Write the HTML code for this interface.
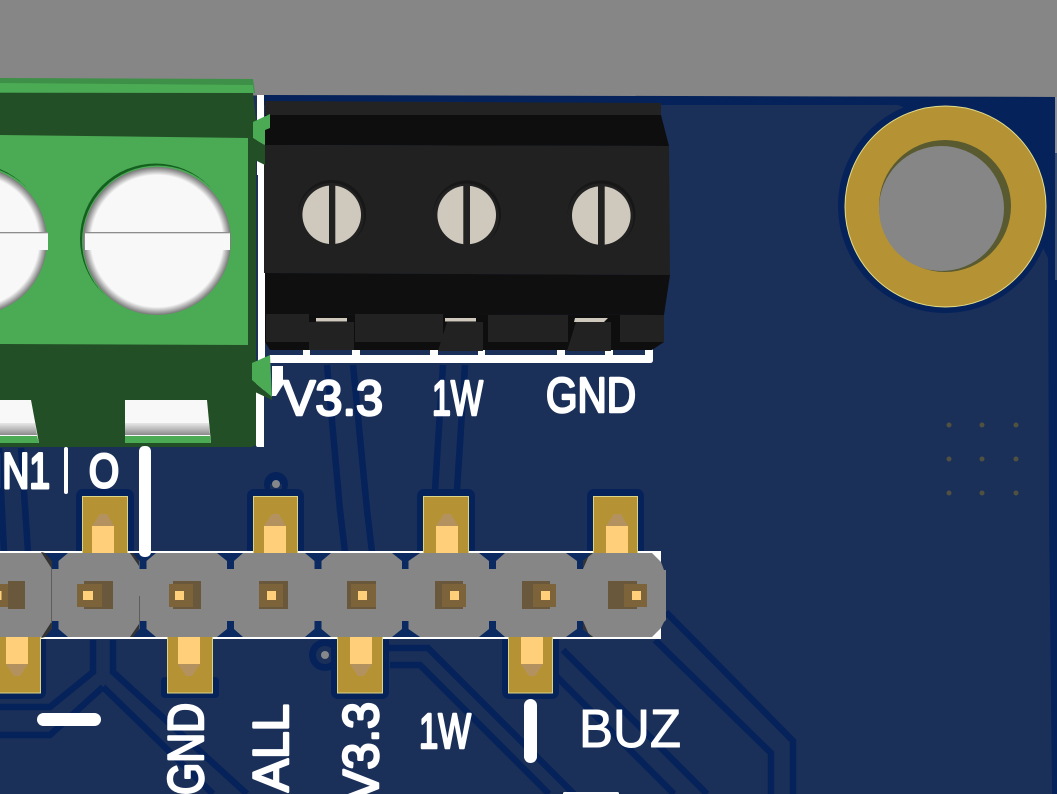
<!DOCTYPE html>
<html><head><meta charset="utf-8"><style>
html,body{margin:0;padding:0;background:#868686}
svg{display:block}
text{font-family:"Liberation Sans",sans-serif;fill:#fff;stroke:#fff;stroke-linejoin:round}
</style></head><body>
<svg width="1057" height="794" viewBox="0 0 1057 794" xmlns="http://www.w3.org/2000/svg">
<defs>
<radialGradient id="rim" cx="50%" cy="50%" r="50%"><stop offset="0.89" stop-color="#f8f8f8"/><stop offset="0.96" stop-color="#a5a5a5"/><stop offset="1" stop-color="#777"/></radialGradient>
<linearGradient id="sl" x1="0" y1="0" x2="0" y2="1"><stop offset="0" stop-color="#e8e8e8"/><stop offset="0.5" stop-color="#bbb"/><stop offset="1" stop-color="#8a8a8a"/></linearGradient>
</defs>
<rect width="1057" height="794" fill="#868686"/>
<!-- board -->
<polygon points="0,95 1057,97 1057,794 0,794" fill="#1b3059"/>
<polygon points="264,95 1057,97 1057,794 1052,794 1049,513 1048,258 1044,250 1000,150 898,105 264,105" fill="#05225a"/>
<rect x="1055" y="97" width="2" height="56" fill="#8a8f99"/>
<rect x="1055" y="153" width="2" height="127" fill="#3e5273"/>
<!-- traces -->
<g fill="none" stroke="#05225a" stroke-width="6.5">
<path d="M327,365L340,510L345,552M353,365L367,510L372,552"/>
<path d="M443,365L435,490M465,365L457,490"/>
<path d="M93,640V672L50,707H0M113,640V672L247,794"/>
<path d="M103,687L50,735H0M103,687L213,794"/>
<path d="M385,648H428L574,794M390,665H420L549,794"/>
<path d="M563,650L707,794M553,673L674,794"/>
<path d="M655,640L771,753V794M666,612L793,741V794"/>
<path d="M21,448L28,552M-1,448L4,552"/>
</g>
<!-- vias -->
<circle cx="276" cy="484" r="12" fill="#05225a"/><rect x="270" y="484" width="12" height="12" fill="#1b3059"/><circle cx="276" cy="484" r="4" fill="#85878a"/>
<circle cx="325" cy="655" r="16" fill="#05225a"/><circle cx="325" cy="655" r="9" fill="#1b3059"/><circle cx="325" cy="655" r="4" fill="#85878a"/>
<g fill="#50513f">
<circle cx="949" cy="425" r="2.5"/><circle cx="982" cy="425" r="2.5"/><circle cx="1016" cy="425" r="2.5"/>
<circle cx="949" cy="459" r="2.5"/><circle cx="982" cy="459" r="2.5"/><circle cx="1016" cy="459" r="2.5"/>
<circle cx="949" cy="493" r="2.5"/><circle cx="982" cy="493" r="2.5"/><circle cx="1016" cy="493" r="2.5"/>
</g>
<!-- mounting hole -->
<circle cx="945" cy="206" r="107" fill="#05225a"/>
<circle cx="945.5" cy="206.5" r="100.5" fill="#b59334" stroke="#e2dd8e" stroke-width="1"/>
<circle cx="945" cy="206" r="66" fill="#5a5a30"/>
<circle cx="941.5" cy="208.5" r="62.5" fill="#868686"/>
<!-- silk labels -->
<text x="283" y="415" font-size="49" stroke-width="2.5" textLength="100" lengthAdjust="spacingAndGlyphs">V3.3</text>
<text x="432" y="415" font-size="49" stroke-width="2.5" textLength="51" lengthAdjust="spacingAndGlyphs">1W</text>
<text x="546" y="412" font-size="49" stroke-width="2.5" textLength="90" lengthAdjust="spacingAndGlyphs">GND</text>
<text x="419" y="748" font-size="49" stroke-width="2.5" textLength="52" lengthAdjust="spacingAndGlyphs">1W</text>
<text x="579" y="747" font-size="54" stroke-width="1" textLength="102" lengthAdjust="spacingAndGlyphs">BUZ</text>
<text transform="translate(203,795) rotate(-90)" font-size="50" stroke-width="2.5" textLength="92" lengthAdjust="spacingAndGlyphs">GND</text>
<text transform="translate(288,792) rotate(-90)" font-size="50" stroke-width="2.5" textLength="88" lengthAdjust="spacingAndGlyphs">ALL</text>
<text transform="translate(378,802) rotate(-90)" font-size="50" stroke-width="2.5" textLength="100" lengthAdjust="spacingAndGlyphs">V3.3</text>
<text x="-8" y="488" font-size="50" stroke-width="3" textLength="58" lengthAdjust="spacingAndGlyphs">IN1</text>
<text x="89" y="487" font-size="47" stroke-width="3" textLength="30" lengthAdjust="spacingAndGlyphs">O</text>
<rect x="64" y="447" width="4" height="47" rx="2" fill="#fff"/>
<rect x="37" y="713" width="64" height="13" rx="6.5" fill="#fff"/>
<rect x="524" y="699" width="13" height="64" rx="6.5" fill="#fff"/>
<rect x="563" y="792" width="56" height="3" rx="1.5" fill="#fff"/>
<!-- white silk outline of terminals -->
<rect x="257" y="95" width="7" height="80" fill="#fff"/>
<rect x="258" y="165" width="7" height="200" fill="#fff"/>
<path d="M256,364H264V447H258Q256,447 256,445Z" fill="#fff"/>
<path d="M270,355H653V360Q653,363 650,363H270Z" fill="#fff"/>
<g fill="#fff"><rect x="303" y="349" width="7" height="7"/><rect x="352" y="349" width="8" height="7"/><rect x="430" y="349" width="8" height="7"/><rect x="478" y="349" width="7" height="7"/><rect x="557" y="349" width="8" height="7"/><rect x="605" y="349" width="8" height="7"/><rect x="645" y="349" width="8" height="7"/></g>
<polygon points="272,366 283,366 283,385 276,396 272,396" fill="#fff"/>
<!-- black terminal block -->
<polygon points="265,101 661,103 661,116 265,116" fill="#232323"/>
<polygon points="265,115 661,115 669,146 265,145" fill="#0e0e0e"/>
<polygon points="264,145 669,146 670,275 264,273" fill="#212121"/>
<polygon points="265,273 670,275 664,315 265,314" fill="#0f0f0f"/>
<polygon points="265,314 664,315 664,342 652,350 270,350 265,342" fill="#0e0e0e"/>
<g fill="#222">
<rect x="266" y="314" width="43" height="28"/>
<rect x="355" y="314" width="88" height="28"/>
<rect x="488" y="315" width="80" height="27"/>
<rect x="620" y="315" width="44" height="27"/>
<polygon points="309,322 354,322 354,350 309,350"/>
<polygon points="447,322 483,322 483,351 438,351"/>
<polygon points="576,322 611,322 611,351 567,351"/>
</g>
<g fill="#cfc8bd">
<rect x="316" y="318" width="31" height="3.5"/><rect x="445" y="318" width="31" height="3.5"/><polygon points="575,318 608,318 604,322 574,322"/>
</g>
<g fill="#171717"><circle cx="332" cy="214" r="34"/><circle cx="467" cy="214.5" r="34"/><circle cx="601.5" cy="214.5" r="34"/></g>
<g fill="#212121"><circle cx="331" cy="216" r="33"/><circle cx="466" cy="216.5" r="33"/><circle cx="600.5" cy="216.5" r="33"/></g>
<g fill="#cfc8bd"><circle cx="331.7" cy="214.8" r="29.3"/><circle cx="466.7" cy="215" r="29.3"/><circle cx="601.3" cy="215.5" r="29.3"/></g>
<g fill="#212121"><rect x="329" y="184" width="6.3" height="62"/><rect x="463.3" y="184" width="6.7" height="62"/><rect x="598" y="184" width="6.7" height="62"/></g>
<!-- green terminal block -->
<polygon points="0,92 253,93 256,120 256,445 252,447 0,447" fill="#234f26"/>
<polygon points="0,78 253,79 255,93 0,93" fill="#3e8f47"/>
<polygon points="0,83 253,85 254,93 0,92" fill="#4bab55"/>
<polygon points="0,135 248,138 248,345 0,344" fill="#4bab55"/>
<!-- screws -->
<circle cx="155.5" cy="239" r="75.5" fill="#14601f"/>
<circle cx="157.5" cy="241" r="75.5" fill="#4bab55"/>
<circle cx="157" cy="241" r="74" fill="url(#rim)"/>
<rect x="85" y="233" width="145" height="17" fill="#f8f8f8"/>
<rect x="85" y="232" width="145" height="1.3" fill="#8d8d8d"/>
<circle cx="-28.5" cy="239" r="75.5" fill="#14601f"/>
<circle cx="-26.5" cy="241" r="75.5" fill="#4bab55"/>
<circle cx="-27" cy="241" r="74" fill="url(#rim)"/>
<rect x="0" y="233" width="48" height="17" fill="#f8f8f8"/>
<rect x="0" y="232" width="48" height="1.3" fill="#8d8d8d"/>
<!-- slots -->
<polygon points="0,400 31,400 39,443 0,443" fill="#f8f8f8"/>
<polygon points="125,400 207,400 211,443 125,443" fill="#f8f8f8"/>
<polygon points="0,423 35,423 37,435 0,435" fill="url(#sl)"/>
<polygon points="125,423 209,423 210,435 125,435" fill="url(#sl)"/>
<polygon points="0,436 37,436 39,443 0,443" fill="#4bab55"/>
<polygon points="125,436 210,436 211,443 125,443" fill="#4bab55"/>
<!-- tabs -->
<polygon points="253,138 265,145 265,165 255,160" fill="#234f26"/>
<polygon points="253,122 270,114 270,128 265,130 265,145 253,138" fill="#4bab55"/>
<polygon points="252,380 272,397 272,400 255,392" fill="#234f26"/>
<polygon points="252,363 270,355 272,397 252,380" fill="#4bab55"/>
<!-- header: pad clearance -->
<g fill="#05225a">
<rect x="76" y="489" width="58" height="70" rx="7"/><rect x="247" y="489" width="57" height="70" rx="7"/>
<rect x="417" y="489" width="58" height="70" rx="7"/><rect x="587" y="489" width="57" height="70" rx="7"/>
<rect x="-12" y="630" width="58" height="69" rx="7"/><rect x="161" y="677" width="58" height="21" rx="4"/>
<rect x="331" y="630" width="58" height="69" rx="7"/><rect x="502" y="630" width="57" height="69" rx="7"/>
</g>
<!-- white silk rectangle around header -->
<rect x="0" y="551" width="661" height="88" fill="#fff"/>
<!-- gold pads -->
<g fill="#b59334" stroke="#d9d487" stroke-width="1">
<rect x="82.5" y="496.5" width="45" height="60"/><rect x="253.5" y="496.5" width="44" height="60"/>
<rect x="423.5" y="496.5" width="45" height="60"/><rect x="593.5" y="496.5" width="44" height="60"/>
<rect x="-6" y="630" width="46.5" height="63"/><rect x="167.5" y="630" width="45" height="63"/>
<rect x="337.5" y="630" width="45" height="63"/><rect x="508.5" y="630" width="44" height="63"/>
</g>
<g fill="#ffcf79">
<rect x="92" y="526" width="22" height="30"/><rect x="264" y="526" width="22" height="30"/>
<rect x="436" y="526" width="22" height="30"/><rect x="606" y="526" width="22" height="30"/>
<rect x="6" y="630" width="22" height="34"/><rect x="178" y="630" width="22" height="34"/>
<rect x="350" y="630" width="22" height="34"/><rect x="521" y="630" width="22" height="34"/>
</g>
<g fill="#b3925f">
<polygon points="92,526 100,514 107,514 114,526"/><polygon points="264,526 272,514 279,514 286,526"/>
<polygon points="436,526 444,514 451,514 458,526"/><polygon points="606,526 614,514 621,514 628,526"/>
<polygon points="6,664 28,664 20,676 14,676"/><polygon points="178,664 200,664 192,676 186,676"/>
<polygon points="350,664 372,664 364,676 358,676"/><polygon points="521,664 543,664 535,676 529,676"/>
</g>
<!-- gray header body -->
<polygon points="0,553 652,553 661,562 664,570 666,570 666,620 664,622 661,628 652,637 0,637" fill="#868686"/>
<!-- notches -->
<g fill="#0b2a62">
<polygon points="42,553 68,553 58.5,561 58.5,569 51.5,569 51.5,561"/>
<polygon points="130,553 156,553 146.5,561 146.5,569 139.5,569 139.5,561"/>
<polygon points="217,553 243,553 234,561 234,569 227,569 227,561"/>
<polygon points="305,553 331,553 321.5,561 321.5,569 314.5,569 314.5,561"/>
<polygon points="392,553 420,553 408.5,561 408.5,569 402,569 402,561"/>
<polygon points="479,553 505,553 496,561 496,569 489,569 489,561"/>
<polygon points="566,553 593,553 583,561 583,569 577,569 577,561"/>
<polygon points="42,637 68,637 58.5,629 58.5,621 51.5,621 51.5,629"/>
<polygon points="130,637 156,637 146.5,629 146.5,621 139.5,621 139.5,629"/>
<polygon points="217,637 243,637 234,629 234,621 227,621 227,629"/>
<polygon points="305,637 331,637 321.5,629 321.5,621 314.5,621 314.5,629"/>
<polygon points="392,637 420,637 408.5,629 408.5,621 402,621 402,629"/>
<polygon points="479,637 505,637 496,629 496,621 489,621 489,629"/>
<polygon points="566,637 593,637 583,629 583,621 577,621 577,629"/>
</g>
<g fill="#333">
<polygon points="41,552 45,553 52,561 52,569"/><polygon points="41,638 45,637 52,629 52,621"/>
<polygon points="130,553 133,553 139,561 139,566"/><polygon points="130,637 133,637 139,629 139,624"/>
<polygon points="583,569 583,561 593,553 590,553"/><polygon points="583,621 583,629 593,637 590,637"/>
</g>
<rect x="51" y="569" width="1" height="54" fill="#5d5d5d"/>
<rect x="139" y="596" width="1" height="28" fill="#5d5d5d"/>
<rect x="139" y="446" width="12" height="111" rx="5" fill="#fff"/>
<!-- centre pins -->
<g fill="#69583c">
<rect x="8" y="581" width="17" height="28"/><rect x="84" y="581" width="29" height="28"/><rect x="173" y="581" width="28" height="28"/>
<rect x="259" y="581" width="29" height="28"/><rect x="347" y="581" width="29" height="28"/><rect x="435" y="581" width="28" height="28"/>
<rect x="522" y="581" width="28" height="28"/><rect x="608" y="581" width="29" height="28"/>
</g>
<g fill="#7d6339">
<rect x="0" y="584" width="8" height="23"/><rect x="77" y="584" width="25" height="23"/><rect x="169" y="584" width="24" height="23"/>
<rect x="259" y="584" width="24" height="23"/><rect x="351" y="584" width="25" height="23"/><rect x="442" y="584" width="24" height="23"/>
<rect x="533" y="584" width="23" height="23"/><rect x="624" y="584" width="23" height="23"/>
</g>
<g fill="#ffcf79">
<rect x="0" y="591" width="1.5" height="9"/><rect x="83" y="591" width="10" height="9"/><rect x="175" y="591" width="9" height="9"/>
<rect x="267" y="591" width="9" height="9"/><rect x="358" y="591" width="9" height="9"/><rect x="450" y="591" width="9" height="9"/>
<rect x="541" y="591" width="9" height="9"/><rect x="632" y="591" width="9" height="9"/>
</g>
</svg>
</body></html>
